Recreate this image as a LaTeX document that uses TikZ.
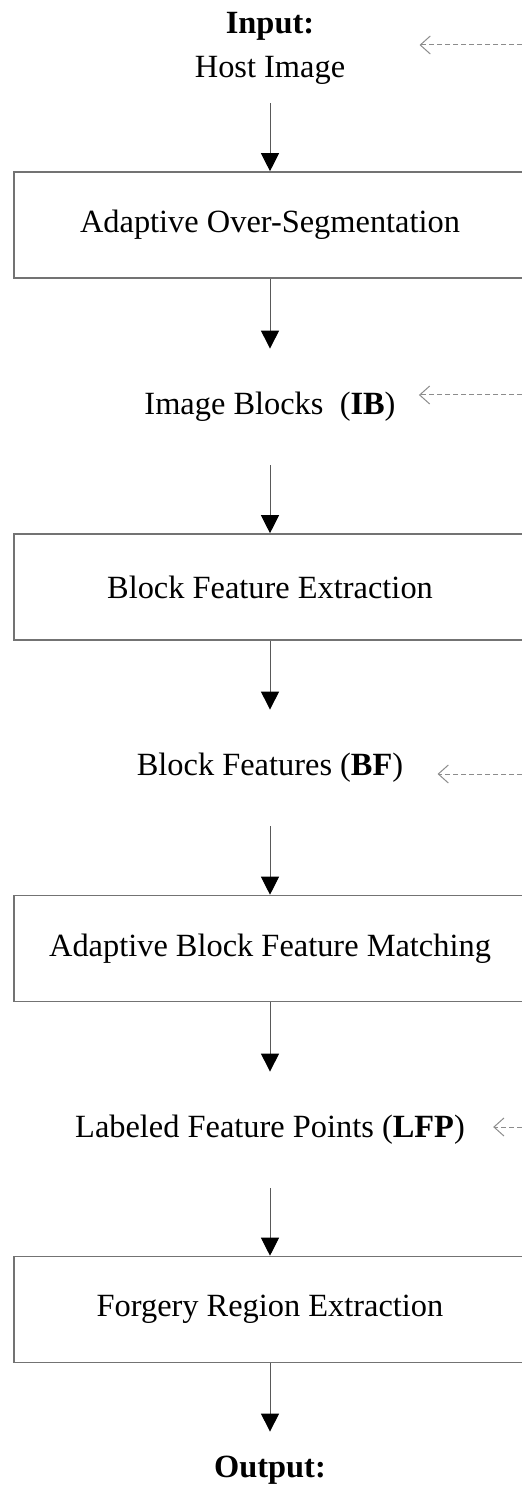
\documentclass[tikz,border=0pt]{standalone}
\usepackage{fontspec}
\setmainfont{Liberation Serif}
\usetikzlibrary{arrows.meta}
\begin{document}
\begin{tikzpicture}[x=0.5pt,y=-0.5pt,font=\fontsize{16.2}{22}\selectfont]
  \useasboundingbox (0,0) rectangle (522,1486);
  \clip (0,0) rectangle (522,1486);
  \begin{scope}[every node/.style={draw=black!55,line width=0.8pt,minimum width=256pt,minimum height=53pt,inner sep=0pt}]
    \node (seg) at (270,225) {Adaptive Over-Segmentation};
    \node (bfe) at (270,587) {Block Feature Extraction};
    \node (abfm) at (270,948.5) {Adaptive Block Feature Matching};
    \node (fre) at (270,1309.5) {Forgery Region Extraction};
  \end{scope}
  \begin{scope}[every node/.style={inner sep=0pt,minimum height=58pt}]
    \node[align=center,minimum height=55pt] (host) at (270,48) {\textbf{Input:}\\Host Image};
    \node (ib) at (270,407) {Image Blocks~~(\textbf{IB})};
    \node (bf) at (270,768) {Block Features (\textbf{BF})};
    \node (lfp) at (270,1130) {Labeled Feature Points (\textbf{LFP})};
    \node[minimum height=38pt] (out) at (270,1470) {\textbf{Output:}};
  \end{scope}
  \coordinate (fb0) at (530,45);
  \coordinate (fb1) at (530,395);
  \coordinate (fb2) at (530,774);
  \coordinate (fb3) at (530,1127);
  \begin{scope}[every edge/.style={draw=black!65,line width=0.5pt,-{Triangle[width=9pt,length=9pt,black]}}]
    \path (host) edge (seg);
    \path (seg) edge (ib);
    \path (ib) edge (bfe);
    \path (bfe) edge (bf);
    \path (bf) edge (abfm);
    \path (abfm) edge (lfp);
    \path (lfp) edge (fre);
    \path (fre) edge (out);
  \end{scope}
  \begin{scope}[every edge/.style={draw=black!45,line width=0.5pt,dash pattern=on 2.5pt off 1.5pt,-{Straight Barb[length=5pt,width=9pt]}}]
    \path (fb0) edge[shorten >=37pt] (host.east |- fb0);
    \path (fb1) edge[shorten >=11.5pt] (ib.east |- fb1);
    \path (fb2) edge[shorten >=17pt] (bf.east |- fb2);
    \path (fb3) edge[shorten >=14pt] (lfp.east |- fb3);
  \end{scope}
\end{tikzpicture}
\end{document}
